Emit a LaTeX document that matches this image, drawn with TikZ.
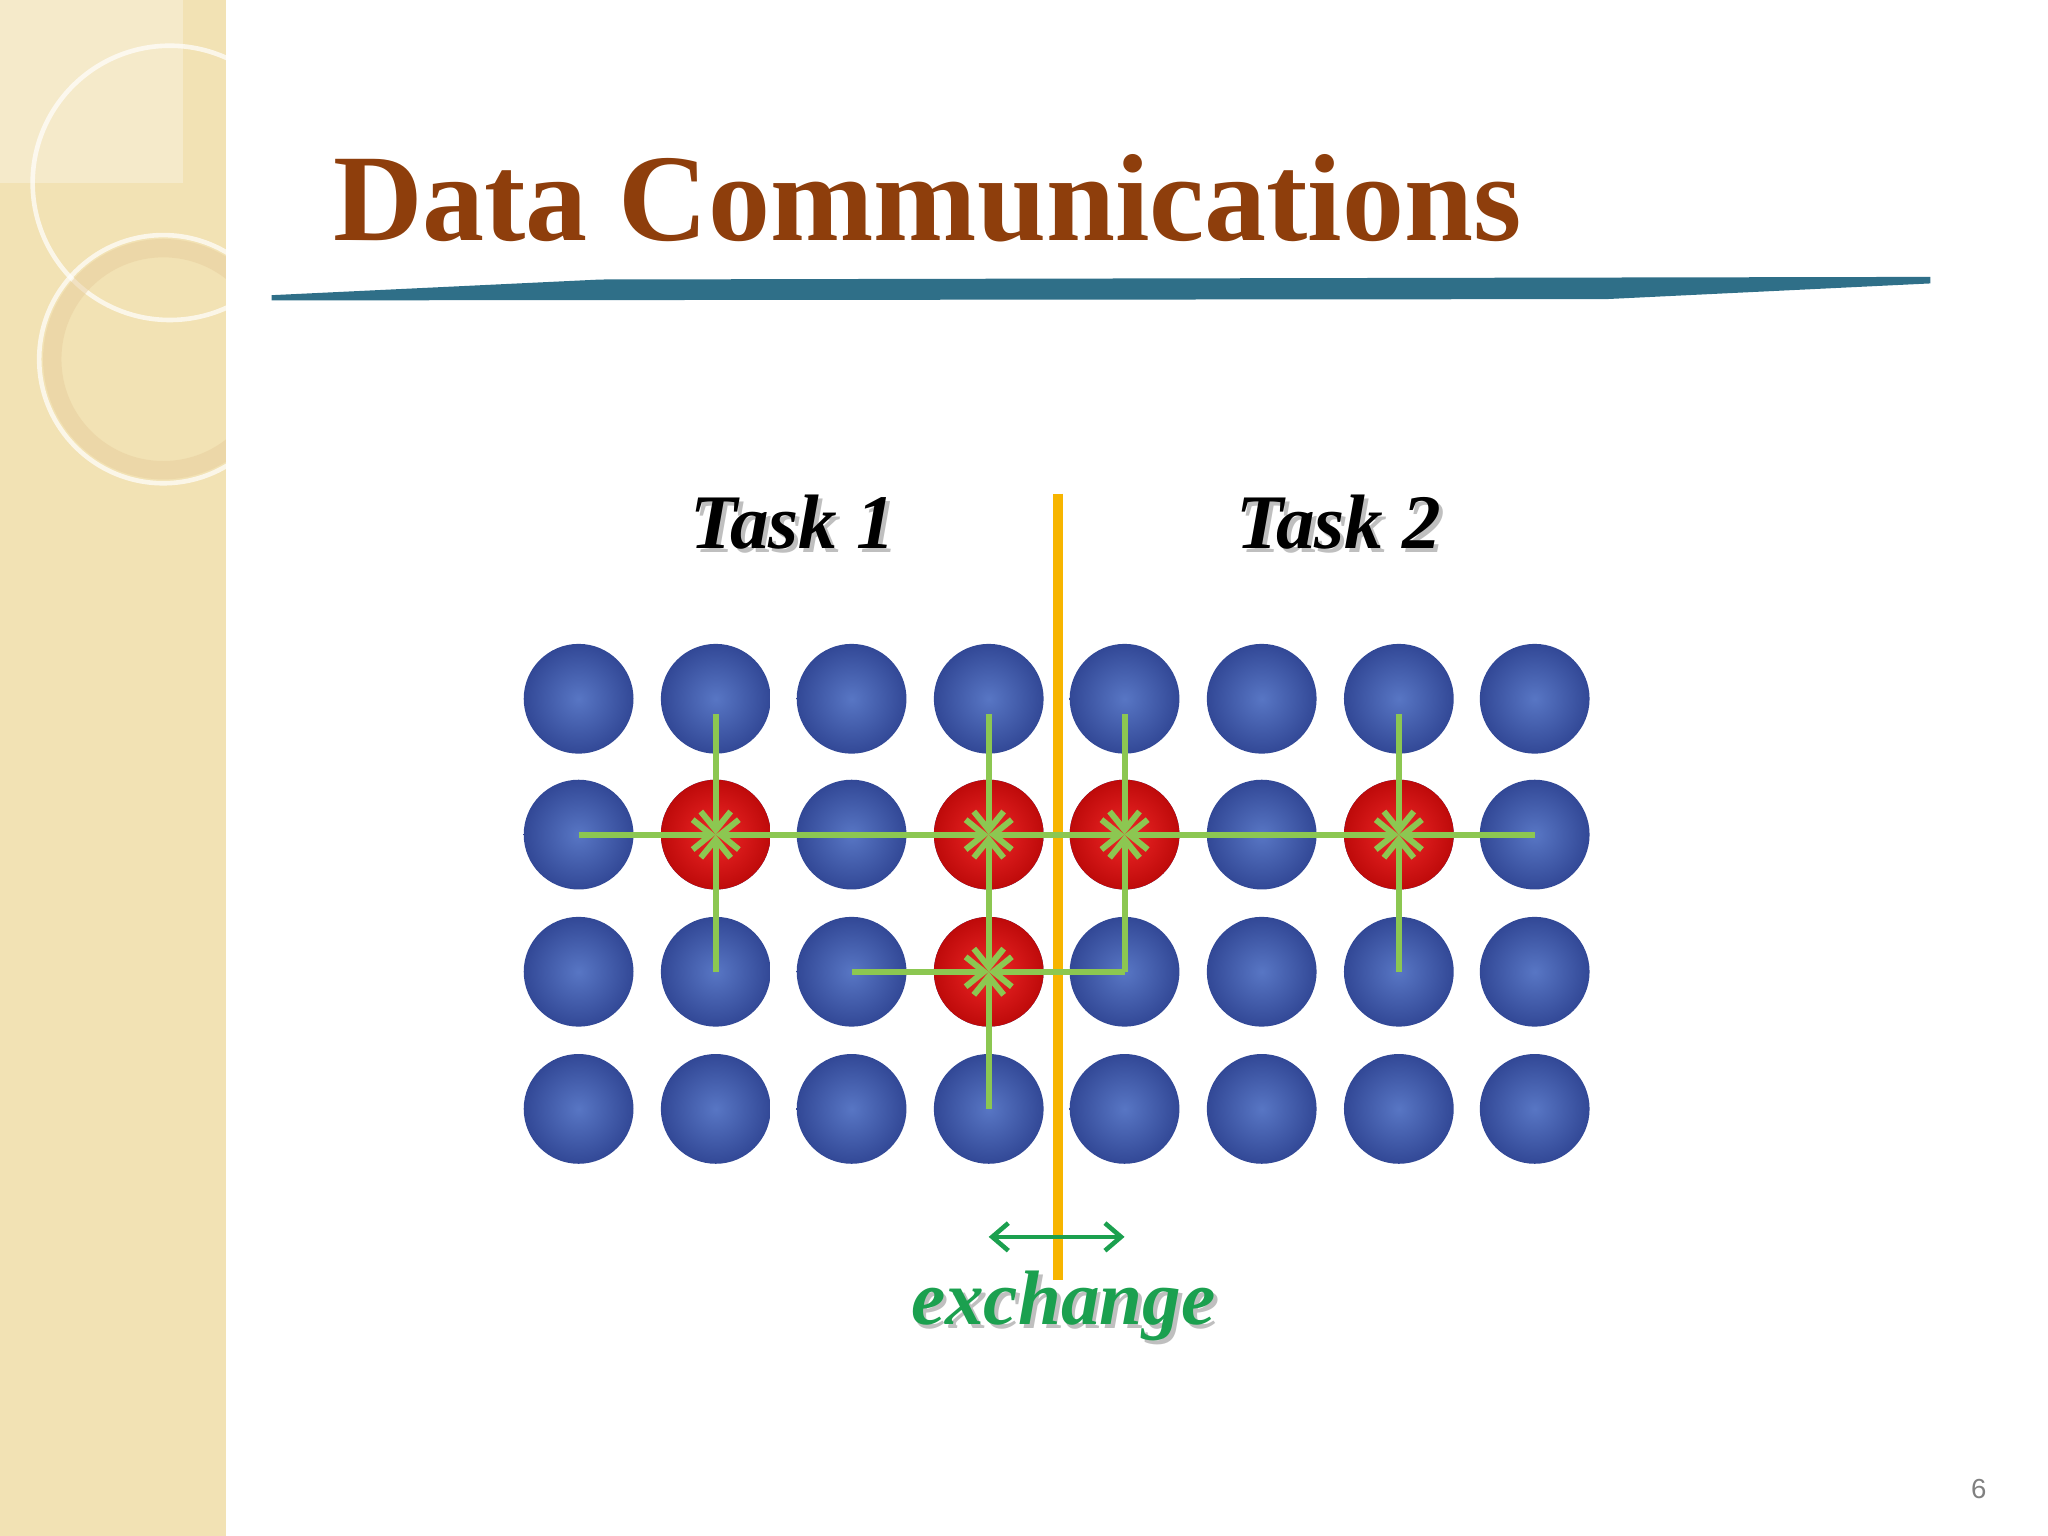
\documentclass[tikz,border=0pt]{standalone}
\usetikzlibrary{arrows.meta}
\usepackage{fontspec}
\setmainfont{Liberation Serif}
\newfontfamily\pgnum{Liberation Sans}
\definecolor{bside}{HTML}{F2E2B4}
\definecolor{titlec}{HTML}{8E3E0C}
\definecolor{teal}{HTML}{2F6F88}
\definecolor{lgreen}{HTML}{8CC751}
\definecolor{dgreen}{HTML}{1BA04F}
\definecolor{orng}{HTML}{F7B500}
\tikzset{
 ballb/.style={circle,minimum size=23.9pt,inner sep=0,shading=radial,inner color={rgb,255:red,88;green,118;blue,196},outer color={rgb,255:red,50;green,72;blue,150}},
 ballr/.style={circle,minimum size=23.9pt,inner sep=0,shading=radial,inner color={rgb,255:red,240;green,40;blue,40},outer color={rgb,255:red,190;green,10;blue,10}},
 ga/.style={draw=lgreen,line width=1.3pt,-{Straight Barb[length=4pt,width=6.5pt]}},
}
\begin{document}
\begin{tikzpicture}[x=0.01cm,y=-0.01cm]
\useasboundingbox (0,0) rectangle (1568,1176);
\fill[white] (0,0) rectangle (1568,1176);
\fill[bside] (0,0) rectangle (173,1176);
\begin{scope}
\clip (0,0) rectangle (173,1176);
\draw[white,line width=1pt,opacity=.7] (130,140) circle (105);
\draw[bside!80!brown,line width=4pt,opacity=.5] (125,275) circle (85);
\draw[white,line width=1pt,opacity=.7] (125,275) circle (95);
\fill[white,opacity=.3] (0,0) rectangle (140,140);
\end{scope}
\node[font=\bfseries\fontsize{27}{30}\selectfont,text=titlec] (title) at (710,152) {Data Communications};
\fill[teal] (208,226) -- (460,214) -- (1478,212) -- (1478,217) -- (1230,229) -- (208,230) -- cycle;
\foreach \c/\x in {1/443,2/548,3/652,4/757,5/861,6/966,7/1071,8/1175}
 \foreach \r/\y in {1/535,2/639,3/744,4/849}
  \node[ballb] (b\c\r) at (\x,\y) {};
\foreach \n in {22,42,52,72,43} \node[ballr] at (b\n) {};
\draw[orng,line width=2pt] (810,378) -- (810,980);
\coordinate (m45) at (809,639);
\draw[ga] (548,547) -- (b22.center);
\draw[ga] (b12.center) -- (b22.center);
\draw[ga] (548,744) -- (b22.center);
\draw[ga] (b32.center) -- (b22.center);
\draw[ga] (b32.center) -- (b42.center);
\draw[ga] (757,547) -- (b42.center);
\draw[ga] (757,700) -- (b42.center);
\draw[ga] (757,690) -- (b43.center);
\draw[ga] (m45) -- (b42.center);
\draw[ga] (m45) -- (b52.center);
\draw[ga] (861,547) -- (b52.center);
\draw[ga] (b62.center) -- (b52.center);
\draw[ga] (b62.center) -- (b72.center);
\draw[ga] (b53.center) -- (b52.center);
\draw[ga] (b53.center) -- (b43.center);
\draw[ga] (1071,547) -- (b72.center);
\draw[ga] (b82.center) -- (b72.center);
\draw[ga] (b73.center) -- (b72.center);
\draw[ga] (b33.center) -- (b43.center);
\draw[ga] (b44.center) -- (b43.center);
\coordinate (e1) at (757,947);\coordinate (e2) at (861,947);
\draw[dgreen,line width=1pt,{Straight Barb[length=3.5pt,width=6pt]}-{Straight Barb[length=3.5pt,width=6pt]}] (e1) -- (e2);
\tikzset{tsk/.style={font=\bfseries\itshape\fontsize{16.8}{18}\selectfont}}
\node[tsk,text=gray!50] at (610,403) {Task 1};
\node[tsk] (t1) at (607,400) {Task 1};
\node[tsk,text=gray!50] at (1028,403) {Task 2};
\node[tsk] (t2) at (1025,400) {Task 2};
\node[tsk,text=gray!50] at (817,1003) {exchange};
\node[tsk,text=dgreen] (ex) at (814,1000) {exchange};
\node[font=\pgnum\fontsize{6}{7}\selectfont,text=gray] (pg) at (1515,1140) {6};
\end{tikzpicture}
\end{document}
